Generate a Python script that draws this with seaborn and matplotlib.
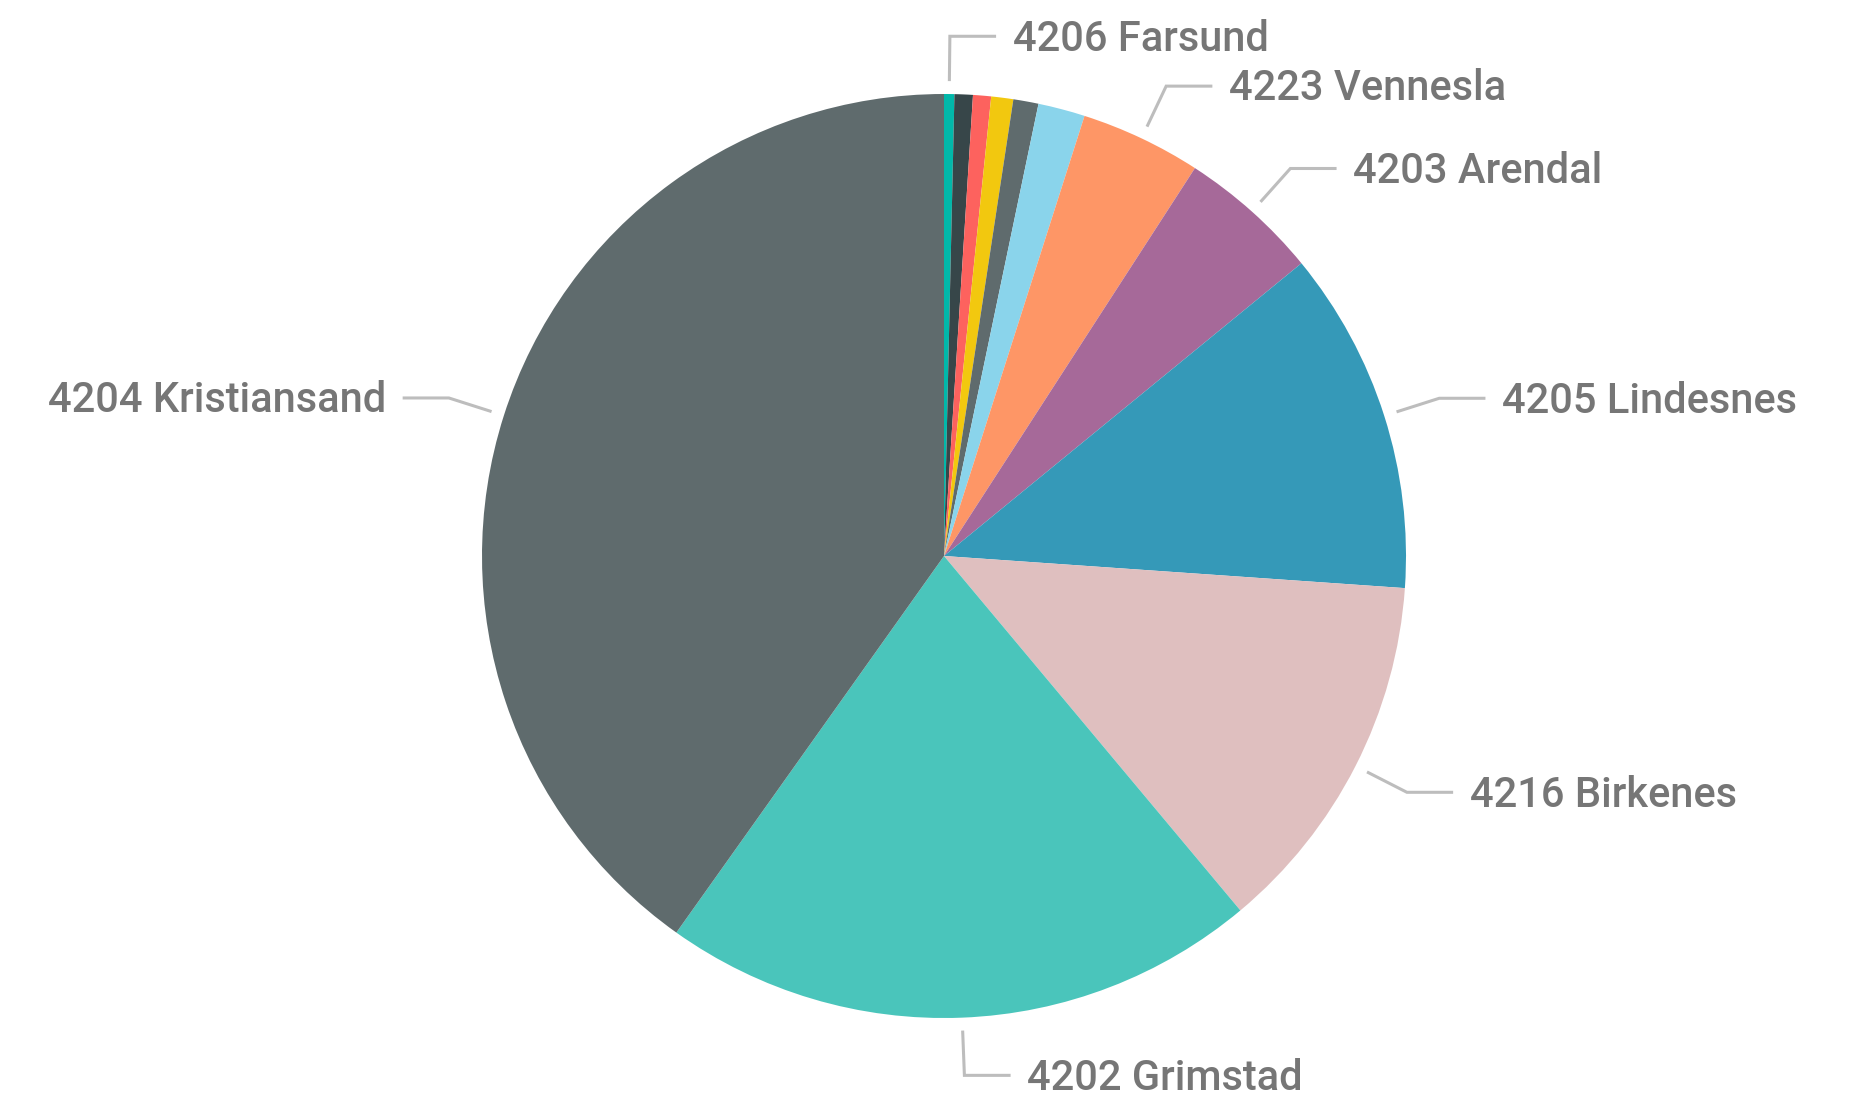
import numpy as np
import matplotlib
matplotlib.use("Agg")
import matplotlib.pyplot as plt
import seaborn as sns

categories = ["4206 Farsund", "4207 Flekkefjord", "4215 Lillesand", "4213 Tvedestrand",
              "4225 Lyngdal", "4201 Risør", "4223 Vennesla", "4203 Arendal",
              "4205 Lindesnes", "4216 Birkenes", "4202 Grimstad", "4204 Kristiansand"]
values = [0.36, 0.64, 0.63, 0.77, 0.88, 1.64, 4.22, 4.94, 12.03, 12.81, 20.92, 40.17]
show_label = [True, False, False, False, False, False, True, True, True, True, True, True]
colors = ["#01B8AA", "#374649", "#FD625E", "#F2C80F", "#5F6B6D", "#8AD4EB",
          "#FE9666", "#A66999", "#3599B8", "#DFBFBF", "#4AC5BB", "#5F6B6D"]

sns.set_theme(style="white")
plt.rcParams['font.family'] = ['Roboto', 'DejaVu Sans']

W, H = 1859, 1100
cx, cy, R = 944, 556, 462
fig = plt.figure(figsize=(W / 100, H / 100), dpi=100)
ax = fig.add_axes([0, 0, 1, 1])
ax.pie(values, colors=colors, startangle=90, counterclock=False, radius=1,
       wedgeprops=dict(linewidth=0))
ax.set_xlim(-cx / R, (W - cx) / R)
ax.set_ylim(-(H - cy) / R, cy / R)
ax.set_aspect("equal")
ax.axis("off")

wedges = ax.patches
for w, name, show in zip(wedges, categories, show_label):
    if not show:
        continue
    th = np.deg2rad((w.theta1 + w.theta2) / 2)
    x0, y0 = 1.028 * np.cos(th), 1.028 * np.sin(th)
    x1, y1 = 1.125 * np.cos(th), 1.125 * np.sin(th)
    side = 1 if np.cos(th) >= 0 else -1
    x2 = x1 + side * 0.10
    ax.plot([x0, x1, x2], [y0, y1, y1], color="#BDBDBD", lw=2.2,
            solid_capstyle="butt", solid_joinstyle="miter")
    ax.text(x2 + side * 0.036, y1 - 0.006, name, ha="left" if side > 0 else "right",
            va="center", fontsize=30, fontweight="medium", color="#767676")

fig.savefig("out.png", dpi=100)
